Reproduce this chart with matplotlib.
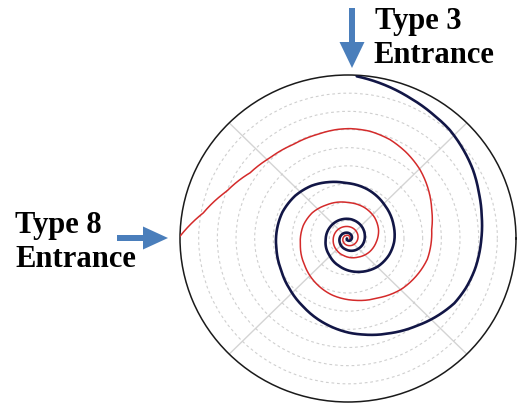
import numpy as np
import matplotlib
matplotlib.use("Agg")
import matplotlib.pyplot as plt

# ---- data ----
# Type 3 spiral (dark navy): angle in degrees (math convention, unwrapped), radius (0..9)
navy_theta_deg = [87.0, 77.4, 66.8, 56.2, 47.7, 38.4, 29.5, 19.8, 9.8, -0.5,
                  -13.7, -23.2, -32.0, -45.0, -52.7, -66.6, -81.2, -88.8, -103.5, -122.6,
                  -137.9, -154.3, -171.0, -179.2, -202.4, -219.8, -236.1, -251.0, -266.7, -291.3,
                  -317.1, -343.1, -364.1, -382.4, -404.0, -433.3, -465.9, -496.8, -535.6, -573.2,
                  -601.7, -639.6, -674.2, -708.6, -744.6, -780.0, -820.0, -870.0, -920.0, -970.0,
                  -1030.0, -1100.0, -1180.0, -1260.0]
navy_r = [8.94, 8.69, 8.42, 8.21, 8.09, 7.88, 7.69, 7.45, 7.27, 7.14,
          7.01, 6.88, 6.72, 6.30, 6.05, 5.68, 5.35, 5.20, 4.87, 4.45,
          4.19, 3.98, 3.88, 3.86, 3.80, 3.68, 3.50, 3.28, 3.07, 2.90,
          2.69, 2.55, 2.48, 2.38, 2.22, 1.92, 1.60, 1.36, 1.20, 1.15,
          1.12, 1.07, 1.00, 0.92, 0.85, 0.75, 0.62, 0.50, 0.42, 0.34,
          0.26, 0.18, 0.11, 0.06]

# Type 8 spiral (red)
red_theta_deg = [179.2, 169.7, 158.2, 145.4, 133.3, 119.5, 106.4, 95.8, 89.0, 78.7,
                 67.6, 56.4, 44.6, 32.1, 19.6, 6.3, -15.0, -22.3, -33.0, -44.0,
                 -63.4, -84.0, -105.9, -126.8, -147.6, -171.6, -196.9, -216.7, -237.6, -270.0,
                 -297.1, -320.2, -344.6, -366.9, -392.2, -422.0, -460.7, -494.6, -533.0, -576.0,
                 -614.0, -654.4, -701.6, -750.0, -800.0, -850.0, -900.0, -960.0, -1030.0, -1100.0]
red_r = [9.00, 7.88, 7.00, 6.37, 6.10, 5.95, 5.96, 6.03, 6.05, 6.02,
         5.89, 5.67, 5.41, 5.08, 4.76, 4.51, 4.40, 4.30, 4.15, 4.00,
         3.65, 3.42, 3.22, 2.98, 2.75, 2.58, 2.50, 2.38, 2.18, 1.98,
         1.92, 1.84, 1.70, 1.53, 1.37, 1.16, 0.98, 0.88, 0.80, 0.74,
         0.68, 0.63, 0.56, 0.48, 0.40, 0.33, 0.27, 0.20, 0.14, 0.09]

r_max = 9
ring_ticks = [1, 2, 3, 4, 5, 6, 7, 8]
spoke_ticks_deg = [45, 135, 225, 315]

labels = [("Type 3", 375, 29.5), ("Entrance", 373, 63.3),
          ("Type 8", 15, 233.0), ("Entrance", 15, 266.7)]

W, H = 517, 404
fig = plt.figure(figsize=(W / 100, H / 100), dpi=100)
fig.patch.set_facecolor("white")

ax = fig.add_axes([180 / W, 2 / H, 336 / W, 327 / H], projection="polar")
ax.set_aspect("auto")
ax.set_ylim(0, r_max)
ax.set_yticks(ring_ticks)
ax.set_yticklabels([])
ax.set_xticks(np.deg2rad(spoke_ticks_deg))
ax.set_xticklabels([])
ax.tick_params(length=0)
ax.xaxis.grid(True, color="#d4d4d4", linestyle="-", linewidth=1.0)
ax.yaxis.grid(True, color="#cfcfcf", linestyle=(0, (2.5, 2.5)), linewidth=0.8)
ax.spines["polar"].set_color("#1a1a1a")
ax.spines["polar"].set_linewidth(1.1)

red_line, = ax.plot(np.deg2rad(red_theta_deg), red_r, color="#d42a2a", linewidth=1.1,
                    solid_capstyle="round", solid_joinstyle="round", zorder=3)
navy_line, = ax.plot(np.deg2rad(navy_theta_deg), navy_r, color="#121646", linewidth=1.9,
                     solid_capstyle="round", solid_joinstyle="round", zorder=4)
# let the polar transform draw each segment as a curve in polar space
for ln in (red_line, navy_line):
    ln.get_path()._interpolation_steps = 24

# overlay for annotations in pixel coordinates
ov = fig.add_axes([0, 0, 1, 1], facecolor="none")
ov.set_xlim(0, W)
ov.set_ylim(H, 0)
ov.axis("off")
arrow_color = "#4a7ebb"
ov.arrow(352, 8, 0, 60, width=6, head_width=25, head_length=26,
         length_includes_head=True, color=arrow_color, linewidth=0)
ov.arrow(117, 238, 51, 0, width=6, head_width=23, head_length=25,
         length_includes_head=True, color=arrow_color, linewidth=0)

for txt, x, y in labels:
    ov.text(x, y, txt, fontsize=22, fontweight="bold", family="Liberation Serif",
            ha="left", va="baseline", color="black")

fig.savefig("out.png", dpi=100, facecolor="white")
